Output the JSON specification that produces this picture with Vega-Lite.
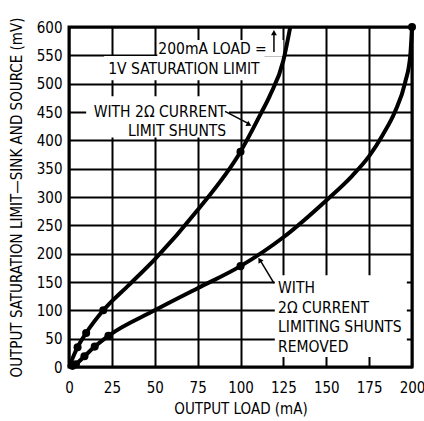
{
  "$schema": "https://vega.github.io/schema/vega-lite/v6.json",
  "width": 343,
  "height": 340,
  "autosize": {"type": "none"},
  "padding": {"left": 69, "top": 27, "right": 12, "bottom": 54},
  "background": "white",
  "config": {
    "font": "DejaVu Sans Condensed, sans-serif",
    "view": {"stroke": "black", "strokeWidth": 3},
    "axis": {
      "grid": true, "gridColor": "black", "gridWidth": 2, "gridOpacity": 1,
      "domain": false, "ticks": false, "labelOverlap": false, "labelFlush": false,
      "labelFont": "DejaVu Sans Condensed, sans-serif",
      "labelFontSize": 15, "labelColor": "black",
      "titleFont": "DejaVu Sans Condensed, sans-serif",
      "titleFontSize": 15, "titleFontWeight": "normal", "titleColor": "black"
    }
  },
  "datasets": {
    "curves": [
      {"series": "shunts", "x": 0, "y": 0},
      {"series": "shunts", "x": 5, "y": 35},
      {"series": "shunts", "x": 10, "y": 60},
      {"series": "shunts", "x": 20, "y": 100},
      {"series": "shunts", "x": 35, "y": 145},
      {"series": "shunts", "x": 50, "y": 190},
      {"series": "shunts", "x": 75, "y": 277},
      {"series": "shunts", "x": 100, "y": 380},
      {"series": "shunts", "x": 112, "y": 448},
      {"series": "shunts", "x": 117, "y": 478},
      {"series": "shunts", "x": 125, "y": 541},
      {"series": "shunts", "x": 129, "y": 600},
      {"series": "removed", "x": 0, "y": 0},
      {"series": "removed", "x": 4, "y": 5},
      {"series": "removed", "x": 9, "y": 19},
      {"series": "removed", "x": 15, "y": 36},
      {"series": "removed", "x": 23, "y": 55},
      {"series": "removed", "x": 50, "y": 100},
      {"series": "removed", "x": 75, "y": 139},
      {"series": "removed", "x": 100, "y": 178},
      {"series": "removed", "x": 125, "y": 229},
      {"series": "removed", "x": 150, "y": 294},
      {"series": "removed", "x": 165, "y": 337},
      {"series": "removed", "x": 175, "y": 372},
      {"series": "removed", "x": 183, "y": 410},
      {"series": "removed", "x": 190, "y": 450},
      {"series": "removed", "x": 196, "y": 502},
      {"series": "removed", "x": 199, "y": 550},
      {"series": "removed", "x": 200, "y": 600}
    ],
    "dots": [
      {"series": "shunts", "x": 5, "y": 35},
      {"series": "shunts", "x": 10, "y": 60},
      {"series": "shunts", "x": 20, "y": 100},
      {"series": "shunts", "x": 100, "y": 380},
      {"series": "removed", "x": 2, "y": 2},
      {"series": "removed", "x": 4, "y": 5},
      {"series": "removed", "x": 9, "y": 19},
      {"series": "removed", "x": 15, "y": 36},
      {"series": "removed", "x": 23, "y": 55},
      {"series": "removed", "x": 100, "y": 178},
      {"series": "removed", "x": 200, "y": 600}
    ],
    "boxes": [
      {"x": 51.5, "x2": 125, "y": 548, "y2": 577},
      {"x": 20.5, "x2": 114, "y": 506, "y2": 549},
      {"x": 10, "x2": 93.3, "y": 405, "y2": 478},
      {"x": 120, "x2": 197, "y": 17.6, "y2": 162}
    ],
    "labelsCenter": [
      {"x": 83.7, "y": 561, "text": "200mA LOAD ="},
      {"x": 67, "y": 526, "text": "1V SATURATION LIMIT"},
      {"x": 53, "y": 450, "text": "WITH 2Ω CURRENT"},
      {"x": 63, "y": 416.5, "text": "LIMIT SHUNTS"}
    ],
    "labelsLeft": [
      {"x": 121.9, "y": 139.4, "text": "WITH"},
      {"x": 121.9, "y": 104, "text": "2Ω CURRENT"},
      {"x": 121.9, "y": 70.6, "text": "LIMITING SHUNTS"},
      {"x": 121.9, "y": 35.3, "text": "REMOVED"}
    ],
    "arrows": [
      {"x": 119.5, "y": 556, "x2": 119.5, "y2": 588},
      {"x": 91, "y": 451, "x2": 105, "y2": 429},
      {"x": 119.5, "y": 148, "x2": 111.5, "y2": 188}
    ]
  },
  "layer": [
    {
      "data": {"name": "boxes"},
      "mark": {"type": "rect", "fill": "white", "stroke": null},
      "encoding": {
        "x": {"field": "x", "type": "quantitative", "scale": {"domain": [0, 200], "nice": false},
              "axis": {"values": [0, 25, 50, 75, 100, 125, 150, 175, 200], "tickCount": 9, "title": "OUTPUT LOAD (mA)", "labelPadding": 13, "titlePadding": 6}},
        "x2": {"field": "x2"},
        "y": {"field": "y", "type": "quantitative", "scale": {"domain": [0, 600], "nice": false},
              "axis": {"values": [0, 50, 100, 150, 200, 250, 300, 350, 400, 450, 500, 550, 600], "tickCount": 13, "title": "OUTPUT SATURATION LIMIT—SINK AND SOURCE (mV)", "labelPadding": 7, "titlePadding": 12}},
        "y2": {"field": "y2"}
      }
    },
    {
      "data": {"name": "curves"},
      "mark": {"type": "line", "color": "black", "strokeWidth": 4, "interpolate": "monotone"},
      "encoding": {
        "x": {"field": "x", "type": "quantitative"},
        "y": {"field": "y", "type": "quantitative"},
        "detail": {"field": "series"}
      }
    },
    {
      "data": {"name": "dots"},
      "mark": {"type": "circle", "color": "black", "opacity": 1, "size": 65},
      "encoding": {
        "x": {"field": "x", "type": "quantitative"},
        "y": {"field": "y", "type": "quantitative"}
      }
    },
    {
      "data": {"name": "arrows"},
      "mark": {"type": "rule", "color": "black", "strokeWidth": 1.5},
      "encoding": {
        "x": {"field": "x", "type": "quantitative"},
        "y": {"field": "y", "type": "quantitative"},
        "x2": {"field": "x2"},
        "y2": {"field": "y2"}
      }
    },
    {
      "data": {"values": [{"x": 119.5, "y": 590}]},
      "mark": {"type": "point", "shape": "triangle-up", "filled": true, "color": "black", "opacity": 1, "size": 35, "angle": 0},
      "encoding": {"x": {"field": "x", "type": "quantitative"}, "y": {"field": "y", "type": "quantitative"}}
    },
    {
      "data": {"values": [{"x": 105, "y": 428}]},
      "mark": {"type": "point", "shape": "triangle-up", "filled": true, "color": "black", "opacity": 1, "size": 35, "angle": 118},
      "encoding": {"x": {"field": "x", "type": "quantitative"}, "y": {"field": "y", "type": "quantitative"}}
    },
    {
      "data": {"values": [{"x": 111.2, "y": 189}]},
      "mark": {"type": "point", "shape": "triangle-up", "filled": true, "color": "black", "opacity": 1, "size": 35, "angle": 328},
      "encoding": {"x": {"field": "x", "type": "quantitative"}, "y": {"field": "y", "type": "quantitative"}}
    },
    {
      "data": {"name": "labelsCenter"},
      "mark": {"type": "text", "align": "center", "baseline": "middle", "fontSize": 15.5, "color": "black"},
      "encoding": {
        "x": {"field": "x", "type": "quantitative"},
        "y": {"field": "y", "type": "quantitative"},
        "text": {"field": "text"}
      }
    },
    {
      "data": {"name": "labelsLeft"},
      "mark": {"type": "text", "align": "left", "baseline": "middle", "fontSize": 15.5, "color": "black"},
      "encoding": {
        "x": {"field": "x", "type": "quantitative"},
        "y": {"field": "y", "type": "quantitative"},
        "text": {"field": "text"}
      }
    }
  ]
}
